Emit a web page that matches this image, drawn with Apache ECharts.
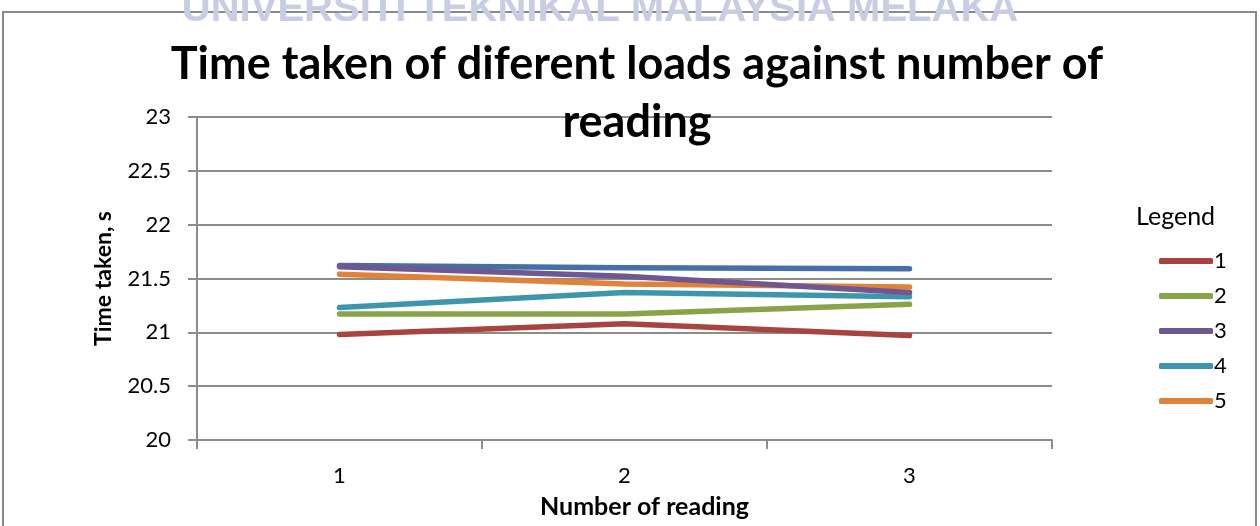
<!DOCTYPE html>
<html>
<head>
<meta charset="utf-8">
<script src="https://cdn.jsdelivr.net/npm/echarts@6/dist/echarts.min.js"></script>
<style>html,body{margin:0;padding:0;background:#fff}#c{width:1260px;height:526px}</style>
</head>
<body>
<div id="c"></div>
<script>
var categories = ['1', '2', '3'];
var seriesNames = ['1', '2', '3', '4', '5'];
var load1 = [20.98, 21.08, 20.97];
var load2 = [21.17, 21.17, 21.26];
var load3 = [21.61, 21.52, 21.37];
var load4 = [21.23, 21.37, 21.33];
var load5 = [21.54, 21.45, 21.42];
var extraSeries = [21.62, 21.60, 21.59];
var yMin = 20, yMax = 23, yStep = 0.5;

var colors = ['#A94342', '#87A448', '#6F578F', '#3D96AE', '#E0823A', '#4470A6'];
var FONT = 'Lato, "Open Sans", sans-serif';

function mk(name, data, color, z) {
  return {
    name: name, type: 'line', data: data, symbol: 'none', z: z,
    lineStyle: { width: 5.5, color: color, cap: 'round', join: 'round' },
    itemStyle: { color: color },
    emphasis: { disabled: true }
  };
}

var chart = echarts.init(document.getElementById('c'));
chart.setOption({
  animation: false,
  backgroundColor: '#fff',
  graphic: [
    { type: 'rect', shape: { x: 3, y: 12, width: 1253, height: 540 }, style: { fill: 'none', stroke: '#8a8a8a', lineWidth: 2 }, z: -1 },
    { type: 'text', x: 600, y: -10, style: { text: 'UNIVERSITI TEKNIKAL MALAYSIA MELAKA', font: 'bold 40px "Liberation Sans", Arial, sans-serif', fill: '#c9cde2', textAlign: 'center', textVerticalAlign: 'top' }, z: 10 }
  ],
  title: [
    { text: 'Time taken of diferent loads against number of\nreading', left: 632, textAlign: 'center', top: 30,
      textStyle: { fontFamily: FONT, fontWeight: 'bold', fontSize: 45, color: '#000', lineHeight: 58 } },
    { text: 'Legend', left: 1131, top: 199, textStyle: { fontFamily: FONT, fontWeight: 'normal', fontSize: 25, color: '#000' } }
  ],
  legend: {
    data: seriesNames,
    orient: 'vertical', left: 1154, top: 245, itemGap: 13, itemWidth: 54, itemHeight: 6,
    textStyle: { fontFamily: FONT, fontSize: 22, color: '#000', padding: [0, 0, 0, -4] },
    icon: 'roundRect',
    selectedMode: false
  },
  grid: { left: 197, right: 208, top: 117, bottom: 86, containLabel: false },
  xAxis: {
    type: 'category', data: categories, boundaryGap: true,
    name: 'Number of reading', nameLocation: 'middle', nameGap: 54,
    nameTextStyle: { fontFamily: FONT, fontWeight: 'bold', fontSize: 25, color: '#000', padding: [0, 0, 0, 40] },
    axisLine: { lineStyle: { color: '#8c8c8c', width: 2 } },
    axisTick: { show: true, length: 9, lineStyle: { color: '#8c8c8c', width: 2 } },
    axisLabel: { fontFamily: FONT, fontSize: 22, color: '#000', margin: 25 },
    splitLine: { show: false }
  },
  yAxis: {
    type: 'value', min: yMin, max: yMax, interval: yStep,
    name: 'Time taken, s', nameLocation: 'middle', nameGap: 82, nameRotate: 90,
    nameTextStyle: { fontFamily: FONT, fontWeight: 'bold', fontSize: 23, color: '#000' },
    axisLine: { show: true, lineStyle: { color: '#8c8c8c', width: 2 } },
    axisTick: { show: true, length: 9, lineStyle: { color: '#8c8c8c', width: 2 } },
    axisLabel: { fontFamily: FONT, fontSize: 22, color: '#000', margin: 26 },
    splitLine: { show: true, lineStyle: { color: '#8c8c8c', width: 2 } }
  },
  series: [
    mk(seriesNames[0], load1, colors[0], 6),
    mk(seriesNames[1], load2, colors[1], 5),
    mk(seriesNames[2], load3, colors[2], 4),
    mk(seriesNames[3], load4, colors[3], 3),
    mk(seriesNames[4], load5, colors[4], 2),
    mk('', extraSeries, colors[5], 1)
  ]
});
</script>
</body>
</html>
